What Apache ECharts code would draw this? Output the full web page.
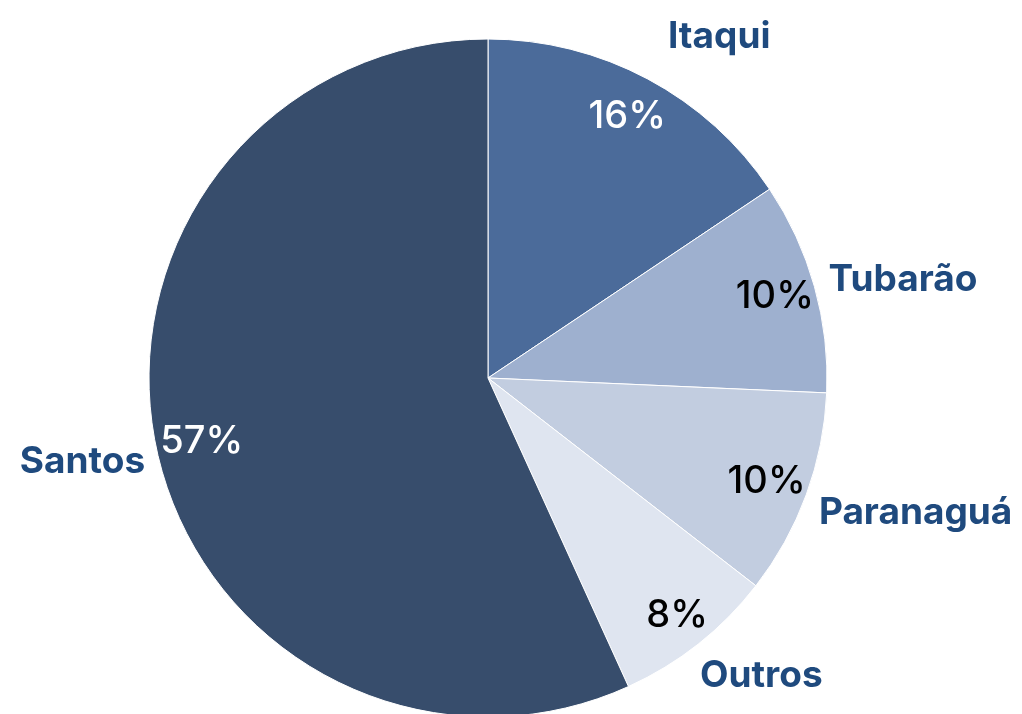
<!DOCTYPE html>
<html>
<head>
    <meta charset="utf-8">
    <title>Portos</title>
    <script src="https://cdn.jsdelivr.net/npm/echarts@6/dist/echarts.min.js"></script>
    <style>
        html, body { margin: 0; padding: 0; background: #fff; }
        #chart { width: 1022px; height: 714px; }
    </style>
</head>
<body>
<div id="chart"></div>
<script>
    var names = ['Itaqui', 'Tubarão', 'Paranaguá', 'Outros', 'Santos'];
    var values = [15.6, 10.1, 9.8, 7.7, 56.8];
    var colors = ['#4b6b9a', '#9eb0cf', '#c2cde0', '#dfe5f0', '#374d6c'];
    var pctColors = ['#ffffff', '#000000', '#000000', '#000000', '#ffffff'];
    // ajuste fino dos nomes (o Excel não põe os rótulos no raio)
    var labelShift = [[5, -23], [-12, -1], [-13, 10], [-17, 15], [15, 7]];
    var pctShift = [[-2, 3], [-2, 0], [-3, 0], [3, 2], [7, 0]];

    var data = [];
    var ghost = [];
    for (var i = 0; i < names.length; i++) {
        data.push({name: names[i], value: values[i], itemStyle: {color: colors[i]}});
        ghost.push({name: names[i], value: values[i], label: {color: pctColors[i]}});
    }

    var myChart = echarts.init(document.getElementById('chart'));
    var option = {
        animation: false,
        series: [{
            type: 'pie',
            left: 0, top: 0, width: 1400, height: 714,
            center: [488, 378],
            radius: 339,
            startAngle: 90,
            data: data,
            itemStyle: {borderColor: '#fff', borderWidth: 1},
            label: {
                show: true,
                position: 'outside',
                overflow: 'none',
                color: '#1f4a7e',
                fontFamily: 'Inter',
                fontWeight: 'bold',
                fontSize: 37,
                formatter: '{b}'
            },
            labelLine: {show: false, length: 22, length2: 0},
            labelLayout: function (p) {
                var s = labelShift[p.dataIndex];
                return {dx: s[0], dy: s[1]};
            }
        }, {
            // camada só para os rótulos de percentagem
            type: 'pie',
            silent: true,
            left: 0, top: 0, width: 1400, height: 714,
            center: [488, 378],
            radius: [255, 339],
            startAngle: 90,
            data: ghost,
            itemStyle: {color: 'rgba(0,0,0,0)'},
            label: {
                show: true,
                position: 'inside',
                fontFamily: 'Inter',
                fontWeight: 500,
                fontSize: 38,
                formatter: function (p) {
                    return Math.round(p.value) + '%';
                }
            },
            labelLine: {show: false},
            labelLayout: function (p) {
                var s = pctShift[p.dataIndex];
                return {dx: s[0], dy: s[1]};
            }
        }]
    };
    myChart.setOption(option);
</script>
</body>
</html>
